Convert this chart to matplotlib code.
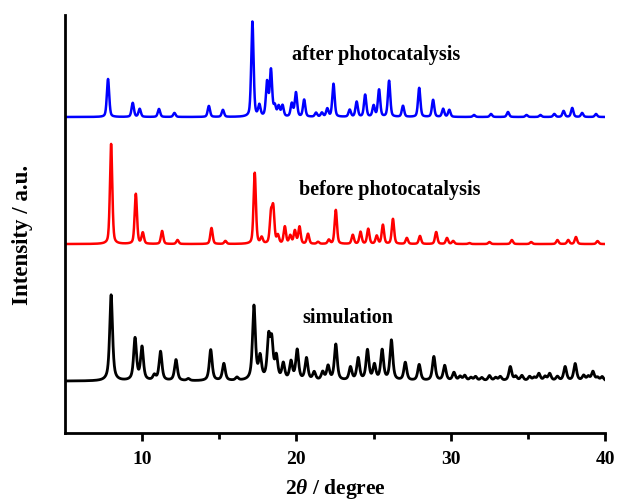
# XRD patterns: simulation / before / after photocatalysis

import numpy as np
import matplotlib
matplotlib.use("Agg")
import matplotlib.pyplot as plt

plt.rcParams['font.family'] = ['Liberation Serif', 'DejaVu Serif']
plt.rcParams['font.weight'] = 'bold'
plt.rcParams['mathtext.fontset'] = 'custom'
plt.rcParams['mathtext.it'] = 'Liberation Serif:italic:bold'
plt.rcParams['mathtext.rm'] = 'Liberation Serif:bold'

# peak positions (2theta, degree) and heights (a.u.)
sim_pos = [8.0, 9.55, 10.0, 10.8, 11.2, 12.2, 13.0, 14.45, 15.3, 16.15,
           17.25, 17.65, 18.2, 18.4, 18.7, 19.15, 19.65, 20.05, 20.65, 21.15,
           21.7, 22.05, 22.55, 23.5, 24.0, 24.6, 25.05, 25.55, 26.15, 27.05,
           27.95, 28.9, 29.6, 30.2, 30.6, 30.9, 31.3, 31.6, 32.0, 32.5,
           32.9, 33.2, 33.85, 34.2, 34.6, 35.1, 35.4, 35.7, 36.1, 36.4,
           36.9, 37.4, 38.05, 38.6, 38.9, 39.2, 39.5, 39.8]
sim_h = [86, 42, 33, 5, 29, 21, 2, 31, 17, 3,
         74, 22, 40, 36, 22, 16, 18, 30, 22, 8,
         8, 14, 36, 13, 22, 30, 15, 30, 40, 18,
         16, 24, 15, 8, 4, 5, 3, 4, 3, 5,
         3, 4, 14, 4, 5, 4, 3, 7, 4, 7,
         4, 14, 17, 5, 4, 9, 3, 4]

bef_pos = [8.0, 9.6, 10.05, 11.3, 12.3, 14.5, 15.4, 17.3, 17.75, 18.35,
           18.5, 18.8, 19.25, 19.6, 19.9, 20.2, 20.75, 21.4, 22.1, 22.55,
           23.65, 24.15, 24.65, 25.2, 25.6, 26.25, 27.15, 28.0, 29.05, 29.75,
           30.15, 31.2, 32.5, 33.95, 35.2, 36.9, 37.6, 38.1, 39.5]
bef_h = [100, 50, 11, 13, 4, 16, 3, 71, 6, 28,
         34, 8, 17, 8, 13, 17, 10, 2, 4, 34,
         9, 12, 15, 8, 19, 25, 6, 8, 12, 6,
         3, 1, 2, 4, 2, 4, 4, 7, 3]

aft_pos = [7.8, 9.4, 9.85, 11.1, 12.1, 14.33, 15.24, 17.15, 17.6, 18.1,
           18.35, 18.6, 18.85, 19.1, 19.7, 19.97, 20.5, 21.27, 21.65, 22.0,
           22.4, 23.45, 23.9, 24.45, 25.0, 25.35, 26.0, 26.9, 27.95, 28.85,
           29.5, 29.9, 31.5, 32.6, 33.7, 34.9, 35.8, 36.7, 37.3, 37.86,
           38.5, 39.4]
aft_h = [38, 14, 8, 8, 4, 11, 7, 95, 11, 34,
         46, 10, 10, 11, 13, 24, 17, 4, 4, 8,
         33, 7, 15, 22, 11, 27, 36, 11, 29, 17,
         8, 7, 2, 3, 5, 2, 2, 3, 6, 9,
         4, 3]

offsets = {"simulation": 52, "before": 189, "after": 316}


def pattern(x, pos, h, w, eta):
    y = np.zeros_like(x)
    for c, a in zip(pos, h):
        lor = 1.0 / (1.0 + ((x - c) / w) ** 2)
        gau = np.exp(-np.log(2) * ((x - c) / w) ** 2)
        y += a * (eta * lor + (1 - eta) * gau)
    return y


x = np.linspace(5, 40, 3501)
y_sim = pattern(x, sim_pos, sim_h, 0.11, 0.7) + offsets["simulation"]
y_bef = pattern(x, bef_pos, bef_h, 0.09, 0.4) + offsets["before"]
y_aft = pattern(x, aft_pos, aft_h, 0.09, 0.4) + offsets["after"]

fig = plt.figure(figsize=(6.17, 4.99), dpi=100)
ax = fig.add_axes([0.105, 0.132, 0.876, 0.838])
ax.plot(x, y_sim, color="black", linewidth=2.0)
ax.plot(x, y_bef, color="red", linewidth=1.8)
ax.plot(x, y_aft, color="blue", linewidth=1.8)

ax.text(25.15, 378, "after photocatalysis", ha="center", va="center", fontsize=14.5, fontweight="bold")
ax.text(26.06, 243, "before photocatalysis", ha="center", va="center", fontsize=14.5, fontweight="bold")
ax.text(23.34, 115, "simulation", ha="center", va="center", fontsize=14.5, fontweight="bold")

ax.set_xlim(5, 40)
ax.set_ylim(0, 418)
ax.set_xticks([10, 20, 30, 40])
ax.set_xticks([15, 25, 35], minor=True)
ax.set_yticks([])
ax.tick_params(axis="x", which="major", direction="out", length=6, width=2, labelsize=14, pad=7)
ax.tick_params(axis="x", which="minor", direction="out", length=4, width=2)
for lab in ax.get_xticklabels():
    lab.set_fontweight("bold")
for side in ["top", "right"]:
    ax.spines[side].set_visible(False)
for side in ["left", "bottom"]:
    ax.spines[side].set_linewidth(2)
ax.set_xlabel(r"2$\it{\theta}$ / degree", fontsize=15.5, fontweight="bold", labelpad=6)
ax.set_ylabel("Intensity / a.u.", fontsize=16.5, fontweight="bold")
ax.yaxis.set_label_coords(-0.058, 0.474)

plt.savefig("out.png", dpi=100)
